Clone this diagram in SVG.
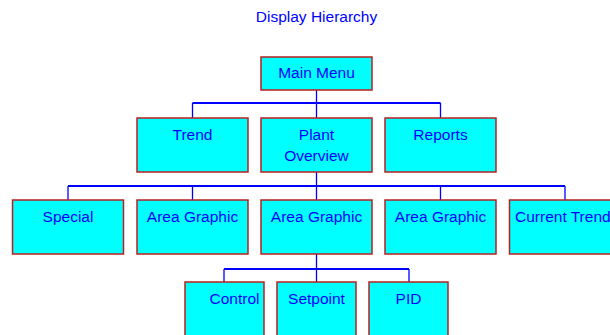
<svg xmlns="http://www.w3.org/2000/svg" width="610" height="335" viewBox="0 0 610 335">
<style>
.box{fill:#00ffff;stroke:#b82020;stroke-width:1.5}
.t{font-family:"Liberation Sans",Arial,sans-serif;font-size:15.5px;fill:#0000ff;text-anchor:middle}
.c{stroke:#0000ff;stroke-width:1.3;fill:none}
.h{stroke:#0000ff;stroke-width:2;fill:none}
</style>
<rect width="610" height="335" fill="#ffffff"/>
<text class="t" x="316.5" y="22" font-size="15">Display Hierarchy</text>
<g id="connectors">
<path class="c" d="M316.5,90V103M192.5,118V103M440.5,118V103M316.5,103V118"/>
<path class="h" d="M192.5,103H440.5"/>
<path class="c" d="M316.5,172V186M68,200V186M565,200V186M192.5,186V200M316.5,186V200M440.5,186V200"/>
<path class="h" d="M68,186H565"/>
<path class="c" d="M316.5,254V269M224,282V269M409,282V269M316.5,269V282"/>
<path class="h" d="M224,269H409"/>
</g>
<g id="main-menu"><rect class="box" x="261" y="57" width="111" height="33"/><text class="t" x="316.5" y="78">Main Menu</text></g>
<g id="trend"><rect class="box" x="137" y="118" width="111" height="54"/><text class="t" x="192.5" y="140">Trend</text></g>
<g id="plant-overview"><rect class="box" x="261" y="118" width="111" height="54"/><text class="t" x="316.5" y="140">Plant</text><text class="t" x="316.5" y="161">Overview</text></g>
<g id="reports"><rect class="box" x="385" y="118" width="111" height="54"/><text class="t" x="440.5" y="140">Reports</text></g>
<g id="special"><rect class="box" x="12.5" y="200" width="111" height="54"/><text class="t" x="68" y="222">Special</text></g>
<g id="area-graphic-1"><rect class="box" x="137" y="200" width="111" height="54"/><text class="t" x="192.5" y="222">Area Graphic</text></g>
<g id="area-graphic-2"><rect class="box" x="261" y="200" width="111" height="54"/><text class="t" x="316.5" y="222">Area Graphic</text></g>
<g id="area-graphic-3"><rect class="box" x="385" y="200" width="111" height="54"/><text class="t" x="440.5" y="222">Area Graphic</text></g>
<g id="current-trends"><rect class="box" x="509.5" y="200" width="111" height="54"/><text class="t" x="515" y="222" style="text-anchor:start">Current Trends</text></g>
<g id="control"><rect class="box" x="185" y="282" width="79" height="60"/><text class="t" x="234.5" y="304">Control</text></g>
<g id="setpoint"><rect class="box" x="277" y="282" width="79" height="60"/><text class="t" x="316.5" y="304">Setpoint</text></g>
<g id="pid"><rect class="box" x="369" y="282" width="79" height="60"/><text class="t" x="408.5" y="304">PID</text></g>
</svg>
